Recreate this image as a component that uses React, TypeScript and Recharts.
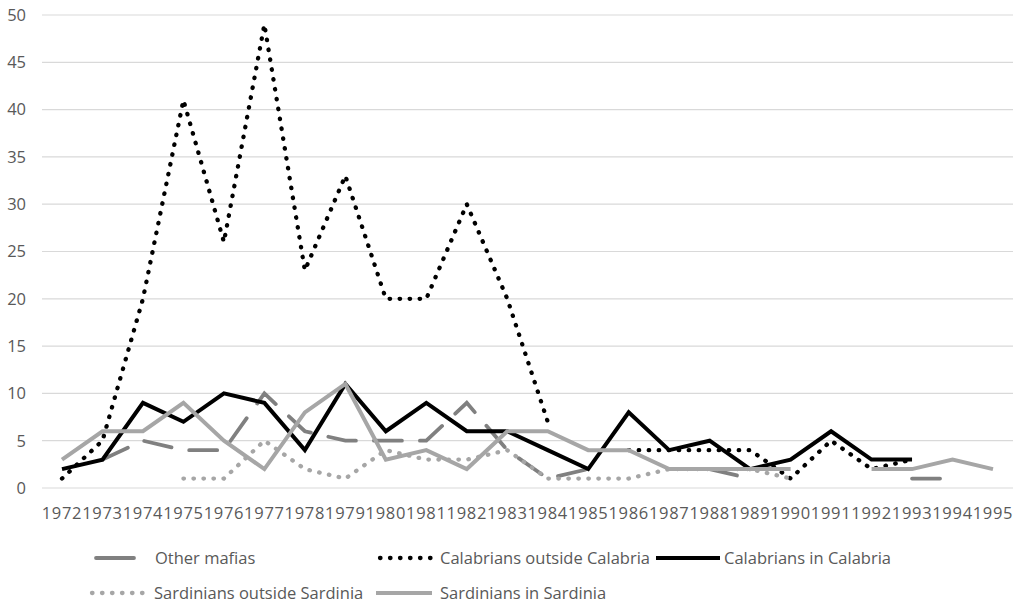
import React from 'react';
import { LineChart, Line, CartesianGrid, XAxis, YAxis, Legend } from 'recharts';

// years on the category axis
const years = [
  '1972', '1973', '1974', '1975', '1976', '1977', '1978', '1979', '1980', '1981', '1982', '1983',
  '1984', '1985', '1986', '1987', '1988', '1989', '1990', '1991', '1992', '1993', '1994', '1995',
];

const yTicks = [0, 5, 10, 15, 20, 25, 30, 35, 40, 45, 50];

// series values (null = no data, gap in the line)
const otherMafias = [null, 3, 5, 4, 4, 10, 6, 5, 5, 5, 9, 4, 1, 2, null, null, 2, 1, null, null, null, 1, 1, null];
const calabriansOutside = [1, 5, 20, 41, 26, 49, 23, 33, 20, 20, 30, 20, 7, null, 4, 4, 4, 4, 1, 5, 2, 3, null, null];
const calabriansIn = [2, 3, 9, 7, 10, 9, 4, 11, 6, 9, 6, 6, 4, 2, 8, 4, 5, 2, 3, 6, 3, 3, null, null];
const sardiniansOutside = [null, null, null, 1, 1, 5, 2, 1, 4, 3, 3, 4, 1, 1, 1, 2, 2, 2, 1, null, null, null, null, null];
const sardiniansIn = [3, 6, 6, 9, 5, 2, 8, 11, 3, 4, 2, 6, 6, 4, 4, 2, 2, 2, 2, null, 2, 2, 3, 2];

const data = years.map((year, i) => ({
  year,
  otherMafias: otherMafias[i],
  calabriansOutside: calabriansOutside[i],
  calabriansIn: calabriansIn[i],
  sardiniansOutside: sardiniansOutside[i],
  sardiniansIn: sardiniansIn[i],
}));

const FONT = '"Open Sans", sans-serif';
const TEXT = '#595959';

const series = [
  { key: 'otherMafias', name: 'Other mafias', color: '#808080', width: 3.8, dash: '28 18', cap: 'round' as const },
  { key: 'calabriansOutside', name: 'Calabrians outside Calabria', color: '#000000', width: 4.3, dash: '0.5 9.5', cap: 'round' as const },
  { key: 'calabriansIn', name: 'Calabrians in Calabria', color: '#000000', width: 4, dash: undefined, cap: 'butt' as const },
  { key: 'sardiniansOutside', name: 'Sardinians outside Sardinia', color: '#a6a6a6', width: 4.3, dash: '0.5 9.5', cap: 'round' as const },
  { key: 'sardiniansIn', name: 'Sardinians in Sardinia', color: '#a6a6a6', width: 4, dash: undefined, cap: 'butt' as const },
];

// where each legend entry sits: icon start/end and text start, row
const legendSlots = [
  { iconFrom: 96, iconTo: 134, text: 155, row: 0 },
  { iconFrom: 380, iconTo: 432, text: 440, row: 0 },
  { iconFrom: 656, iconTo: 720, text: 724, row: 0 },
  { iconFrom: 92, iconTo: 146, text: 154, row: 1 },
  { iconFrom: 376, iconTo: 432, text: 440, row: 1 },
];

const CustomLegend = () => (
  <div style={{ position: 'relative', width: 1019, height: 65 }}>
    {series.map((s, i) => {
      const slot = legendSlots[i];
      const top = slot.row === 0 ? 18 : 53;
      return (
        <React.Fragment key={s.key}>
          <svg
            width={slot.iconTo - slot.iconFrom + 8}
            height={10}
            style={{ position: 'absolute', left: slot.iconFrom - 4, top: top - 5 }}
          >
            <line
              x1={4}
              x2={slot.iconTo - slot.iconFrom + 4}
              y1={5}
              y2={5}
              stroke={s.color}
              strokeWidth={s.width}
              strokeDasharray={s.key === 'otherMafias' ? undefined : s.dash}
              strokeLinecap={s.cap}
            />
          </svg>
          <span
            style={{
              position: 'absolute',
              left: slot.text,
              top: top - 12,
              fontFamily: FONT,
              fontSize: 16.5,
              lineHeight: '24px',
              color: TEXT,
              whiteSpace: 'nowrap',
            }}
          >
            {s.name}
          </span>
        </React.Fragment>
      );
    })}
  </div>
);

export default function App() {
  return (
    <div style={{ position: 'absolute', left: 0, top: 0, background: '#fff' }}>
      <LineChart width={1019} height={605} data={data} margin={{ top: 15, right: 6, bottom: 77, left: 0 }}>
        <CartesianGrid vertical={false} stroke="#d9d9d9" strokeWidth={1.2} />
        <XAxis
          dataKey="year"
          interval={0}
          axisLine={false}
          tickLine={false}
          tickSize={0}
          tickMargin={19}
          height={40}
          padding={{ left: 20, right: 20 }}
          tick={{ fill: TEXT, fontSize: 16.5, fontFamily: FONT, letterSpacing: 0.7 }}
        />
        <YAxis
          domain={[0, 50]}
          ticks={yTicks}
          width={42}
          axisLine={false}
          tickLine={false}
          tickSize={0}
          tickMargin={16}
          tick={{ fill: TEXT, fontSize: 16.5, fontFamily: FONT }}
        />
        <Legend
          verticalAlign="middle"
          content={() => <CustomLegend />}
          wrapperStyle={{ position: 'absolute', left: 0, top: 540, width: 1019, height: 65 }}
        />
        {series.map((s) => (
          <Line
            key={s.key}
            dataKey={s.key}
            name={s.name}
            type="linear"
            stroke={s.color}
            strokeWidth={s.width}
            strokeDasharray={s.dash}
            strokeLinecap={s.cap}
            dot={false}
            activeDot={false}
            isAnimationActive={false}
          />
        ))}
      </LineChart>
    </div>
  );
}
